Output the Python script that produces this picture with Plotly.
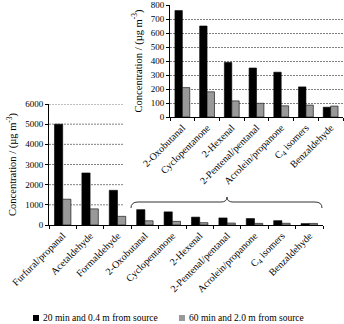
import plotly.graph_objects as go

# ---- data ----
main_categories = ["Furfural/propanal", "Acetaldehyde", "Formaldehyde", "2-Oxobutanal",
                   "Cyclopentanone", "2-Hexenal", "2-Pentenal/pentanal",
                   "Acrolein/propanone", "C<sub>4</sub> isomers", "Benzaldehyde"]
near_values = [5000, 2580, 1720, 760, 650, 390, 350, 320, 215, 70]
far_values = [1280, 800, 430, 210, 180, 115, 98, 80, 85, 78]

inset_categories = main_categories[3:]
inset_near = near_values[3:]
inset_far = far_values[3:]

series_names = ["20 min and 0.4 m from source", "60 min and 2.0 m from source"]
main_yticks = [0, 1000, 2000, 3000, 4000, 5000, 6000]
inset_yticks = [0, 100, 200, 300, 400, 500, 600, 700, 800]
ytitle = "Concentration / (µg m<sup>-3</sup>)"

W, H = 344, 324
FONT = "Liberation Serif, Times New Roman, serif"
BLACK = "#000000"
GRAY = "#999999"
GRID = "#808080"


def px(x):
    return x / W


def py(y):
    return 1 - y / H


fig = go.Figure()

fig.add_trace(go.Bar(x=main_categories, y=near_values, name=series_names[0],
                     marker=dict(color=BLACK, line=dict(color=BLACK, width=0.6)),
                     xaxis="x", yaxis="y", showlegend=False))
fig.add_trace(go.Bar(x=main_categories, y=far_values, name=series_names[1],
                     marker=dict(color=GRAY, line=dict(color=BLACK, width=0.6)),
                     xaxis="x", yaxis="y", showlegend=False))
fig.add_trace(go.Bar(x=inset_categories, y=inset_near, name=series_names[0],
                     marker=dict(color=BLACK, line=dict(color=BLACK, width=0.6)),
                     xaxis="x2", yaxis="y2", showlegend=False))
fig.add_trace(go.Bar(x=inset_categories, y=inset_far, name=series_names[1],
                     marker=dict(color=GRAY, line=dict(color=BLACK, width=0.6)),
                     xaxis="x2", yaxis="y2", showlegend=False))

tickfont = dict(family=FONT, size=10, color=BLACK)
numfont = dict(family=FONT, size=9, color=BLACK)

axis_common = dict(showline=True, linecolor=BLACK, linewidth=1, ticks="outside",
                   tickcolor=BLACK, ticklen=3, zeroline=False, automargin=False)

shapes = []
for v in main_yticks[1:]:
    shapes.append(dict(type="line", xref="paper", yref="y", x0=px(49), x1=px(123),
                       y0=v, y1=v, line=dict(color=GRID, width=1, dash="2px,1px"),
                       layer="below"))


def P(x, y):
    return f"{px(x):.5f},{py(y):.5f}"


brace = ("M " + P(131, 208) + " Q " + P(131, 202) + " " + P(138, 202) +
         " L " + P(221, 202) + " Q " + P(227, 202) + " " + P(227, 197) +
         " Q " + P(227, 202) + " " + P(233, 202) + " L " + P(315, 202) +
         " Q " + P(322, 202) + " " + P(322, 208))
shapes.append(dict(type="path", xref="paper", yref="paper", path=brace,
                   line=dict(color="#333333", width=1)))

shapes.append(dict(type="rect", xref="paper", yref="paper", x0=px(33), x1=px(39),
                   y0=py(321), y1=py(315), fillcolor=BLACK, line=dict(width=0)))
shapes.append(dict(type="rect", xref="paper", yref="paper", x0=px(179), x1=px(185),
                   y0=py(321), y1=py(315), fillcolor=GRAY, line=dict(width=0)))

annotations = [
    dict(text=series_names[0], xref="paper", yref="paper", x=px(41), y=py(318),
         xanchor="left", yanchor="middle", showarrow=False,
         font=dict(family=FONT, size=9.5, color=BLACK)),
    dict(text=series_names[1], xref="paper", yref="paper", x=px(187), y=py(318),
         xanchor="left", yanchor="middle", showarrow=False,
         font=dict(family=FONT, size=9.5, color=BLACK)),
]

fig.update_layout(
    width=W, height=H,
    margin=dict(l=0, r=0, t=0, b=0, autoexpand=False),
    paper_bgcolor="white", plot_bgcolor="rgba(0,0,0,0)",
    barmode="group", bargap=0.4, bargroupgap=0,
    showlegend=False,
    font=dict(family=FONT, color=BLACK),
    xaxis=dict(domain=[px(49), px(323)], anchor="y", type="category",
               range=[-0.5, 9.5], tickangle=-45, tickson="boundaries",
               tickfont=tickfont, showgrid=False, **axis_common),
    yaxis=dict(domain=[py(225), py(104)], anchor="x", range=[0, 6000],
               tickvals=main_yticks, tickfont=numfont, showgrid=False,
               title=dict(text=ytitle, font=dict(family=FONT, size=10.5, color=BLACK),
                          standoff=6),
               **axis_common),
    xaxis2=dict(domain=[px(170), px(343)], anchor="y2", type="category",
                range=[-0.5, 6.5], tickangle=-45, tickson="boundaries",
                tickfont=tickfont, showgrid=False, **axis_common),
    yaxis2=dict(domain=[py(117), py(5)], anchor="x2", range=[0, 800],
                tickvals=inset_yticks, tickfont=numfont, showgrid=True,
                gridcolor=GRID, gridwidth=1, griddash="2px,1px",
                title=dict(text=ytitle, font=dict(family=FONT, size=10.5, color=BLACK),
                           standoff=6),
                **axis_common),
    shapes=shapes,
    annotations=annotations,
)

fig.write_html("out.html")
